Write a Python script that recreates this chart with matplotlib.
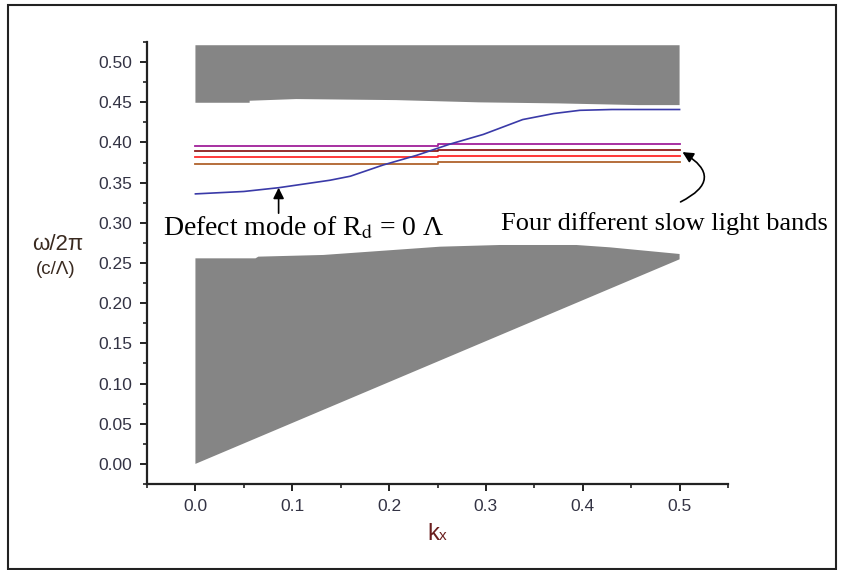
import matplotlib
matplotlib.use("Agg")
import matplotlib.pyplot as plt
import numpy as np
from matplotlib.patches import Rectangle
from matplotlib.ticker import MultipleLocator

# Upper band-gap edge (photonic band above the gap)
upper_k = [0.0, 0.056, 0.056, 0.104, 0.207, 0.293, 0.375, 0.457, 0.5]
upper_bottom = [0.4494, 0.4494, 0.4519, 0.4540, 0.4527, 0.4499, 0.4486, 0.4465, 0.4465]
upper_top = 0.521

# Lower band: top edge plus the light line closing it at the bottom
lower_k = [0.0, 0.062, 0.065, 0.132, 0.2526, 0.3144, 0.3935, 0.428, 0.5]
lower_top = [0.2558, 0.2558, 0.2579, 0.2600, 0.2703, 0.2724, 0.2724, 0.2695, 0.2612]
light_line_k = [0.5, 0.0]
light_line_w = [0.2546, 0.0]

# Defect mode for R_d = 0
defect_k = [0.0, 0.05, 0.086, 0.139, 0.16, 0.194, 0.2285, 0.263, 0.2973,
            0.338, 0.37, 0.397, 0.43, 0.5]
defect_w = [0.336, 0.339, 0.3437, 0.353, 0.358, 0.372, 0.384, 0.398, 0.410,
            0.4285, 0.436, 0.440, 0.441, 0.441]

# Four slow-light bands (small step at kx = 0.25)
band_k = [0.0, 0.25, 0.25, 0.5]
band_purple = [0.3955, 0.3955, 0.3976, 0.3976]
band_darkred = [0.3893, 0.3893, 0.3905, 0.3905]
band_red = [0.3814, 0.3814, 0.3835, 0.3835]
band_orange = [0.3735, 0.3735, 0.3752, 0.3752]

x_ticks = [0.0, 0.1, 0.2, 0.3, 0.4, 0.5]
y_ticks = [0.00, 0.05, 0.10, 0.15, 0.20, 0.25, 0.30, 0.35, 0.40, 0.45, 0.50]

GRAY = "#858585"
TICK_COLOR = "#333344"

plt.rcParams["font.family"] = "Liberation Sans"
plt.rcParams["mathtext.fontset"] = "stix"

fig = plt.figure(figsize=(8.42, 5.7), dpi=100)
ax = fig.add_axes([0.1746, 0.1509, 0.690, 0.7754])

# gray band regions
ax.fill(upper_k + upper_k[::-1],
        upper_bottom + [upper_top] * len(upper_k),
        color=GRAY, lw=0)
ax.fill(lower_k + light_line_k, lower_top + light_line_w, color=GRAY, lw=0)

ax.plot(band_k, band_purple, color="#a0209a", lw=1.3)
ax.plot(band_k, band_darkred, color="#8e1c1c", lw=1.3)
ax.plot(band_k, band_red, color="#ff2a2a", lw=1.3)
ax.plot(band_k, band_orange, color="#b0622c", lw=1.3)
ax.plot(defect_k, defect_w, color="#3a3aa8", lw=1.2)

ax.set_xlim(-0.05, 0.55)
ax.set_ylim(-0.025, 0.525)
ax.set_xticks(x_ticks)
ax.set_yticks(y_ticks)
ax.set_xticklabels([f"{v:.1f}" for v in x_ticks])
ax.set_yticklabels([f"{v:.2f}" for v in y_ticks])
ax.xaxis.set_minor_locator(MultipleLocator(0.05))
ax.yaxis.set_minor_locator(MultipleLocator(0.025))

for side in ("top", "right"):
    ax.spines[side].set_visible(False)
for side in ("left", "bottom"):
    ax.spines[side].set_linewidth(1.6)
    ax.spines[side].set_color("#222222")

ax.tick_params(which="major", direction="out", length=5, width=1.4,
               color="#222222", labelsize=12.5, labelcolor=TICK_COLOR, pad=5.5)
ax.tick_params(which="minor", direction="out", length=3, width=1.2,
               color="#222222")

# axis labels
fig.text(58 / 842, 1 - 245 / 570, "ω/2π", fontsize=16, color="#3a2a20",
         ha="center", va="center")
fig.text(56 / 842, 1 - 270 / 570, "(c/Λ)", fontsize=13.5, color="#3a2a20",
         ha="center", va="center")
fig.text(427 / 842, 1 - 540 / 570, "k", fontsize=17, color="#6a1e1e",
         ha="left", va="baseline")
fig.text(438.5 / 842, 1 - 540 / 570, "x", fontsize=11, color="#6a1e1e",
         ha="left", va="baseline")

# annotations
serif = "Liberation Serif"
ax.text(-0.033, 0.2848, r"Defect mode of R$_{\mathrm{d}}$ = 0 Λ",
        family=serif, fontsize=20, ha="left", va="baseline", clip_on=False)
ax.annotate("", xy=(0.0859, 0.3437), xytext=(0.0859, 0.312),
            arrowprops=dict(arrowstyle="-|>", color="black", lw=1.2,
                            mutation_scale=16, shrinkA=0, shrinkB=0))

ax.text(0.3151, 0.291, "Four different slow light bands",
        family=serif, fontsize=19, ha="left", va="baseline", clip_on=False)
ax.annotate("", xy=(0.503, 0.388), xytext=(0.501, 0.326),
            arrowprops=dict(arrowstyle="-|>", color="black", lw=1.2,
                            mutation_scale=16, shrinkA=0, shrinkB=0,
                            connectionstyle="arc3,rad=0.9"),
            annotation_clip=False)

# outer frame around the whole figure
fig.patches.append(Rectangle((8 / 842, 1 / 570), 828 / 842, 564 / 570,
                             transform=fig.transFigure, fill=False,
                             edgecolor="#222222", lw=1.5))

fig.savefig("out.png", dpi=100)
